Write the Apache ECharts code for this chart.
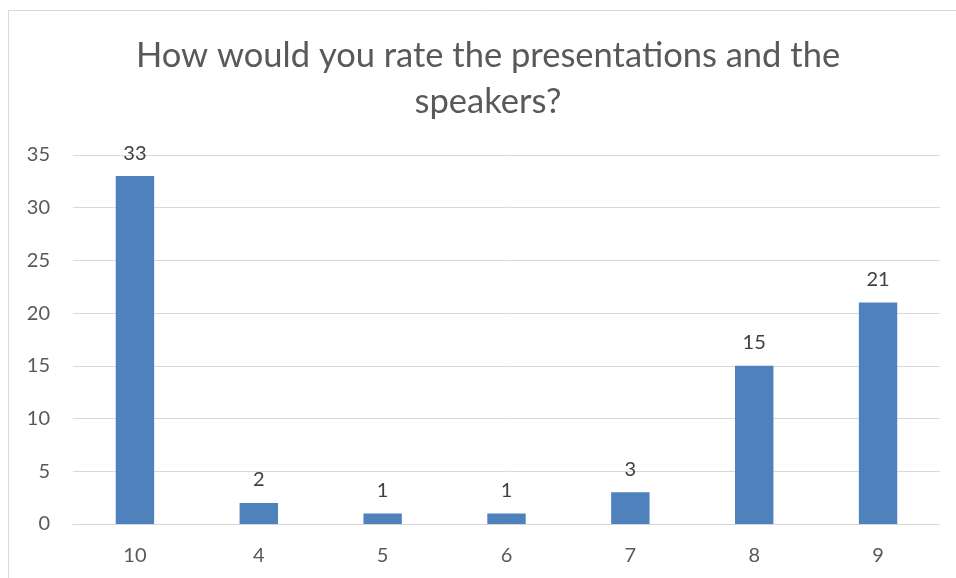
<!DOCTYPE html>
<html><head><meta charset="utf-8">
<script src="https://cdn.jsdelivr.net/npm/echarts@6/dist/echarts.min.js"></script>
<style>html,body{margin:0;padding:0;background:#fff}#c{width:956px;height:578px}</style>
</head><body><div id="c"></div>
<script>
const categories = ['10','4','5','6','7','8','9'];
const counts = [33, 2, 1, 1, 3, 15, 21];
const titleText = 'How would you rate the presentations and the\nspeakers?';
const chart = echarts.init(document.getElementById('c'), null, {renderer:'canvas'});
const font = 'Lato';
chart.setOption({
  animation:false,
  backgroundColor:'#fff',
  graphic:[
    {type:'rect', shape:{x:8.5,y:10.5,width:1000,height:1000}, style:{fill:'none', stroke:'#d9d9d9', lineWidth:1}, silent:true},
    {type:'text', x:488, y:33, silent:true, style:{text:titleText, align:'center', verticalAlign:'top', fill:'#595959', fontFamily:font, fontSize:34.5, lineHeight:46}}
  ],
  grid:{left:73, right:16, top:155, bottom:54},
  xAxis:{type:'category', data:categories,
    axisLine:{lineStyle:{color:'#d9d9d9'}}, axisTick:{show:false},
    axisLabel:{color:'#595959', fontFamily:font, fontSize:20, margin:22}},
  yAxis:{type:'value', min:0, max:35, interval:5,
    axisLine:{show:false}, axisTick:{show:false},
    splitLine:{lineStyle:{color:'#d9d9d9'}},
    axisLabel:{color:'#595959', fontFamily:font, fontSize:20, margin:23}},
  series:[{type:'bar', data:counts, barWidth:'31%', itemStyle:{color:'#4f81bd'},
    label:{show:true, position:'top', distance:13, color:'#404040', fontFamily:font, fontSize:20}}]
});
</script></body></html>
